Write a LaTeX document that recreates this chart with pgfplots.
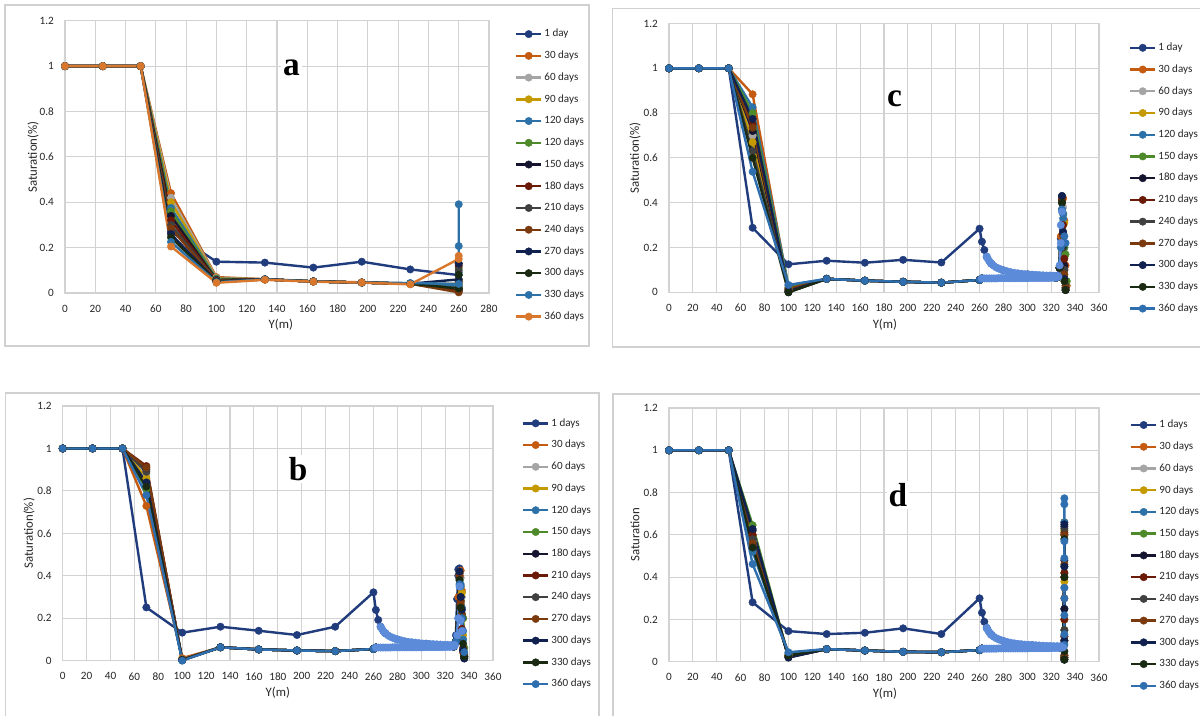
\documentclass[border=0pt]{standalone}
\usepackage{pgfplots}
\pgfplotsset{compat=1.18}
\usepackage{fontspec}
\setmainfont{Carlito}
\newfontfamily\lettfont{Liberation Serif}
\definecolor{gridc}{HTML}{D2D2D2}
\definecolor{boxc}{HTML}{D0D0D0}
\definecolor{txt}{HTML}{262626}
\definecolor{cNavy}{HTML}{203C7C}
\definecolor{cOrange}{HTML}{C55A11}
\definecolor{cGray}{HTML}{A5A5A5}
\definecolor{cGold}{HTML}{C49A00}
\definecolor{cBlue}{HTML}{2C72A8}
\definecolor{cGreen}{HTML}{4E8A2A}
\definecolor{cBlack}{HTML}{151530}
\definecolor{cDRed}{HTML}{6B1A08}
\definecolor{cDGray}{HTML}{404040}
\definecolor{cBrown}{HTML}{7A3A0E}
\definecolor{cNavyB}{HTML}{10204F}
\definecolor{cBlkG}{HTML}{1A2A12}
\definecolor{cSteel}{HTML}{2F6FAF}
\definecolor{cLight}{HTML}{5B8BD9}
\definecolor{cOrangeL}{HTML}{D9782D}
\tikzset{letter/.style={fill=white, inner sep=1.5pt, font=\fontsize{25}{25}\selectfont\lettfont\bfseries}}
\pgfplotsset{
  satax/.style={
    scale only axis, anchor=south west, clip=false,
    xmin=0, ymin=0, ymax=1.2,
    ytick={0,0.2,0.4,0.6,0.8,1,1.2},
    grid=major,
    grid style={draw=gridc, line width=0.8pt},
    axis line style={draw=gridc, line width=0.8pt},
    major tick length=0pt,
    tick label style={font=\fontsize{8.4}{10}\selectfont, text=txt},
    /pgf/number format/assume math mode=true,
    yticklabel style={xshift=-4.8pt},
    xticklabel style={yshift=-5.3pt},
    label style={font=\fontsize{9.6}{11}\selectfont, text=txt},
    every axis plot/.append style={line width=1.8pt, mark=*, mark size=2.8pt, mark options={solid, line width=0.3pt}},
    legend cell align=left,
    legend style={draw=none, fill=none, inner sep=0pt, outer sep=0pt, anchor=north west,
      font=\fontsize{8.3}{10}\selectfont, text=txt, row sep=8.5pt, column sep=1.5pt,
      nodes={inner sep=0pt, text height=6pt, text depth=1.8pt}},
    legend image code/.code={\draw[##1, mark repeat=2, mark phase=2] plot coordinates {(0pt,0pt) (9.4pt,0pt) (18.8pt,0pt)};},
  },
}
\begin{document}
\begin{tikzpicture}
\useasboundingbox (0,0) rectangle (900pt,-536.25pt);
\fill[white] (0,0) rectangle (900pt,-536.25pt);
\draw[boxc, line width=0.8pt] (3.75pt,-3.75pt) rectangle (441.75pt,-259.5pt);
\draw[boxc, line width=0.8pt] (459.4pt,-6.2pt) rectangle (902.25pt,-260.25pt);
\draw[boxc, line width=0.8pt] (4.1pt,-294.75pt) rectangle (449.25pt,-537.75pt);
\draw[boxc, line width=0.8pt] (459.75pt,-295.5pt) rectangle (902.25pt,-537.75pt);

% ---------------- panel a ----------------
\begin{axis}[satax, at={(48.75pt,-219.75pt)}, width=318pt, height=204.2pt,
  xmax=280, xtick={0,20,...,280},
  xlabel={Y(m)}, ylabel={Saturation(\%)},
  xlabel style={at={(axis description cs:0.509,-0.1175)}, anchor=center},
  ylabel style={at={(axis description cs:-0.0755,0.5)}, anchor=center},
  legend style={at={(1.0613,0.970)}},
  legend entries={1 day,30 days,60 days,90 days,120 days,120 days,150 days,180 days,210 days,240 days,270 days,300 days,330 days,360 days}]
\addplot[cNavy] coordinates {(0,1)(25,1)(50,1)(70,0.27)(100,0.138)(132,0.134)(164,0.112)(196,0.138)(228,0.104)(260,0.079)};
\addplot[cOrange] coordinates {(0,1)(25,1)(50,1)(70,0.44)(100,0.07)(132,0.061)(164,0.052)(196,0.047)(228,0.042)(260,0.03)(260,0.01)};
\addplot[cGray] coordinates {(0,1)(25,1)(50,1)(70,0.42)(100,0.067)(132,0.06)(164,0.051)(196,0.046)(228,0.041)(260,0.035)(260,0.02)};
\addplot[cGold] coordinates {(0,1)(25,1)(50,1)(70,0.40)(100,0.065)(132,0.06)(164,0.051)(196,0.046)(228,0.041)(260,0.04)(260,0.06)};
\addplot[cBlue] coordinates {(0,1)(25,1)(50,1)(70,0.375)(100,0.063)(132,0.06)(164,0.051)(196,0.046)(228,0.041)(260,0.03)(260,0.09)};
\addplot[cGreen] coordinates {(0,1)(25,1)(50,1)(70,0.36)(100,0.06)(132,0.06)(164,0.051)(196,0.046)(228,0.041)(260,0.02)(260,0.11)};
\addplot[cBlack] coordinates {(0,1)(25,1)(50,1)(70,0.34)(100,0.058)(132,0.06)(164,0.051)(196,0.046)(228,0.041)(260,0.015)(260,0.13)(260,0.05)};
\addplot[cDRed] coordinates {(0,1)(25,1)(50,1)(70,0.32)(100,0.056)(132,0.06)(164,0.051)(196,0.046)(228,0.041)(260,0.01)(260,0.12)};
\addplot[cDGray] coordinates {(0,1)(25,1)(50,1)(70,0.30)(100,0.055)(132,0.06)(164,0.051)(196,0.046)(228,0.041)(260,0.02)(260,0.10)};
\addplot[cBrown] coordinates {(0,1)(25,1)(50,1)(70,0.285)(100,0.054)(132,0.06)(164,0.051)(196,0.046)(228,0.041)(260,0.003)(260,0.05)};
\addplot[cNavyB] coordinates {(0,1)(25,1)(50,1)(70,0.26)(100,0.052)(132,0.06)(164,0.051)(196,0.046)(228,0.041)(260,0.06)(260,0.13)};
\addplot[cBlkG] coordinates {(0,1)(25,1)(50,1)(70,0.245)(100,0.05)(132,0.06)(164,0.051)(196,0.046)(228,0.041)(260,0.02)(260,0.08)};
\addplot[cBlue] coordinates {(0,1)(25,1)(50,1)(70,0.225)(100,0.048)(132,0.06)(164,0.051)(196,0.046)(228,0.044)(260,0.04)(260,0.207)(260,0.391)};
\addplot[cOrangeL] coordinates {(0,1)(25,1)(50,1)(70,0.205)(100,0.045)(132,0.058)(164,0.05)(196,0.046)(228,0.038)(260,0.15)(260,0.164)};
\node[letter] at (axis cs:149.6,0.994) {a};
\end{axis}

% ---------------- panel c ----------------
\begin{axis}[satax, at={(501.75pt,-219.225pt)}, width=322.5pt, height=201.6pt,
  xmax=360, xtick={0,20,...,360},
  xlabel={Y(m)}, ylabel={Saturation(\%)},
  xlabel style={at={(axis description cs:0.502,-0.1217)}, anchor=center},
  ylabel style={at={(axis description cs:-0.079,0.5)}, anchor=center},
  legend style={at={(1.0698,0.929)}},
  legend entries={1 day,30 days,60 days,90 days,120 days,150 days,180 days,210 days,240 days,270 days,300 days,330 days,360 days}]
\addplot[cNavy] coordinates {(0,1)(25,1)(50,1)(70,0.288)(100,0.125)(132,0.141)(164,0.132)(196,0.145)(228,0.133)(260,0.284)(262,0.226)(264,0.189)(266,0.159)(270,0.127)(280,0.098)(300,0.08)(325,0.074)(327,0.11)(328,0.24)(329,0.37)};
\addplot[cOrange] coordinates {(0,1)(25,1)(50,1)(70,0.884)(100,0.02)(132,0.06)(164,0.052)(196,0.047)(228,0.043)(260,0.055)(262,0.062)(324,0.065)(326,0.07)(327,0.11)(328,0.25)(329,0.43)(330,0.42)(331,0.32)(332,0.12)(333,0.03)};
\addplot[cGray] coordinates {(0,1)(25,1)(50,1)(70,0.70)(100,0.015)(132,0.06)(164,0.052)(196,0.047)(228,0.043)(260,0.055)(262,0.062)(324,0.065)(326,0.07)(327,0.11)(329,0.42)(330,0.38)(331,0.1)(332,0.03)};
\addplot[cGold] coordinates {(0,1)(25,1)(50,1)(70,0.67)(100,0.01)(132,0.06)(164,0.052)(196,0.047)(228,0.043)(260,0.055)(262,0.062)(324,0.065)(326,0.07)(327,0.11)(329,0.41)(330,0.35)(331,0.31)(332,0.05)};
\addplot[cBlue] coordinates {(0,1)(25,1)(50,1)(70,0.826)(100,0.03)(132,0.06)(164,0.052)(196,0.047)(228,0.043)(260,0.055)(262,0.062)(324,0.065)(326,0.07)(327,0.11)(329,0.43)(330,0.33)(331,0.2)(332,0.02)};
\addplot[cGreen] coordinates {(0,1)(25,1)(50,1)(70,0.80)(100,0.02)(132,0.06)(164,0.052)(196,0.047)(228,0.043)(260,0.055)(262,0.062)(324,0.065)(326,0.07)(327,0.11)(329,0.40)(330,0.35)(331,0.2)(332,0.17)(333,0.05)};
\addplot[cBlack] coordinates {(0,1)(25,1)(50,1)(70,0.72)(100,0.0)(132,0.06)(164,0.052)(196,0.047)(228,0.043)(260,0.055)(262,0.062)(324,0.065)(326,0.07)(327,0.11)(329,0.42)(330,0.26)(331,0.12)(332,0.01)};
\addplot[cDRed] coordinates {(0,1)(25,1)(50,1)(70,0.75)(100,0.005)(132,0.06)(164,0.052)(196,0.047)(228,0.043)(260,0.055)(262,0.062)(324,0.065)(326,0.07)(327,0.11)(329,0.41)(330,0.3)(331,0.15)(332,0.02)};
\addplot[cDGray] coordinates {(0,1)(25,1)(50,1)(70,0.63)(100,0.01)(132,0.06)(164,0.052)(196,0.047)(228,0.043)(260,0.055)(262,0.062)(324,0.065)(326,0.07)(327,0.11)(329,0.40)(330,0.2)(331,0.1)(332,0.03)};
\addplot[cBrown] coordinates {(0,1)(25,1)(50,1)(70,0.735)(100,0.015)(132,0.06)(164,0.052)(196,0.047)(228,0.043)(260,0.055)(262,0.062)(324,0.065)(326,0.07)(327,0.11)(329,0.42)(330,0.25)(331,0.08)(332,0.02)};
\addplot[cNavyB] coordinates {(0,1)(25,1)(50,1)(70,0.774)(100,0.005)(132,0.06)(164,0.052)(196,0.047)(228,0.043)(260,0.055)(262,0.062)(324,0.065)(326,0.07)(327,0.11)(329,0.43)(330,0.27)(331,0.06)(332,0.01)};
\addplot[cBlkG] coordinates {(0,1)(25,1)(50,1)(70,0.60)(100,0.0)(132,0.06)(164,0.052)(196,0.047)(228,0.043)(260,0.055)(262,0.062)(324,0.065)(326,0.07)(327,0.11)(329,0.40)(330,0.21)(331,0.05)(332,0.01)};
\addplot[cSteel] coordinates {(0,1)(25,1)(50,1)(70,0.538)(100,0.033)(132,0.06)(164,0.052)(196,0.047)(228,0.043)(260,0.055)(262,0.062)(324,0.065)(326,0.07)(328,0.2)(329,0.37)(330,0.35)(331,0.25)(332,0.22)};
\addplot[cLight, forget plot] coordinates {(262,0.062)(264,0.062)(266,0.062)(268,0.062)(270,0.062)(272,0.062)(274,0.062)(276,0.063)(278,0.063)(280,0.063)(282,0.063)(284,0.063)(286,0.063)(288,0.063)(290,0.063)(292,0.063)(294,0.063)(296,0.063)(298,0.063)(300,0.063)(302,0.064)(304,0.064)(306,0.064)(308,0.064)(310,0.064)(312,0.064)(314,0.064)(316,0.064)(318,0.064)(320,0.065)(322,0.065)(324,0.066)(326,0.07)(327,0.12)(328,0.22)(328,0.3)(329,0.36)};
\addplot[cLight, forget plot] coordinates {(266,0.159)(267,0.149)(268,0.14)(269,0.133)(270,0.127)(272,0.118)(274,0.111)(276,0.106)(278,0.102)(280,0.098)(283,0.094)(286,0.09)(289,0.087)(292,0.085)(295,0.083)(298,0.081)(301,0.08)(304,0.079)(307,0.078)(310,0.077)(313,0.076)(316,0.075)(319,0.075)(322,0.074)(325,0.074)};
\node[letter] at (axis cs:188.9,0.863) {c};
\end{axis}

% ---------------- panel b ----------------
\begin{axis}[satax, at={(47.03pt,-495.5pt)}, width=322.7pt, height=191pt,
  xmax=360, xtick={0,20,...,360},
  xlabel={Y(m)}, ylabel={Saturation(\%)},
  xlabel style={at={(axis description cs:0.5,-0.127)}, anchor=center},
  ylabel style={at={(axis description cs:-0.078,0.5)}, anchor=center},
  legend style={at={(1.0674,0.9525)}},
  legend entries={1 days,30 days,60 days,90 days,120 days,150 days,180 days,210 days,240 days,270 days,300 days,330 days,360 days}]
\addplot[cNavy] coordinates {(0,1)(25,1)(50,1)(70,0.251)(100,0.132)(132,0.16)(164,0.141)(196,0.121)(228,0.16)(260,0.322)(262,0.239)(264,0.192)(266,0.16)(270,0.129)(280,0.1)(304,0.08)(327,0.074)(329,0.12)(330,0.29)(331,0.4)(331,0.43)(332,0.435)};
\addplot[cOrange] coordinates {(0,1)(25,1)(50,1)(70,0.729)(100,0.012)(132,0.063)(164,0.053)(196,0.048)(228,0.045)(260,0.055)(262,0.062)(327,0.066)(329,0.09)(331,0.3)(332,0.42)(333,0.425)(334,0.33)(335,0.2)(336,0.03)};
\addplot[cGray] coordinates {(0,1)(25,1)(50,1)(70,0.88)(100,0.005)(132,0.063)(164,0.053)(196,0.048)(228,0.045)(260,0.055)(262,0.062)(327,0.066)(329,0.09)(332,0.4)(333,0.39)(334,0.3)(335,0.1)(336,0.02)};
\addplot[cGold] coordinates {(0,1)(25,1)(50,1)(70,0.86)(100,0.005)(132,0.063)(164,0.053)(196,0.048)(228,0.045)(260,0.055)(262,0.062)(327,0.066)(329,0.09)(332,0.41)(333,0.35)(334,0.32)(335,0.12)(336,0.03)};
\addplot[cBlue] coordinates {(0,1)(25,1)(50,1)(70,0.83)(100,0.005)(132,0.063)(164,0.053)(196,0.048)(228,0.045)(260,0.055)(262,0.062)(327,0.066)(329,0.09)(332,0.42)(333,0.36)(334,0.25)(335,0.1)(336,0.02)};
\addplot[cGreen] coordinates {(0,1)(25,1)(50,1)(70,0.81)(100,0.005)(132,0.063)(164,0.053)(196,0.048)(228,0.045)(260,0.055)(262,0.062)(327,0.066)(329,0.09)(332,0.38)(333,0.28)(334,0.22)(335,0.2)(336,0.06)};
\addplot[cBlack] coordinates {(0,1)(25,1)(50,1)(70,0.90)(100,0.003)(132,0.063)(164,0.053)(196,0.048)(228,0.045)(260,0.055)(262,0.062)(327,0.066)(329,0.09)(332,0.41)(333,0.3)(334,0.2)(335,0.05)(336,0.012)};
\addplot[cDRed] coordinates {(0,1)(25,1)(50,1)(70,0.917)(100,0.003)(132,0.063)(164,0.053)(196,0.048)(228,0.045)(260,0.055)(262,0.062)(327,0.066)(329,0.09)(332,0.4)(333,0.28)(334,0.15)(335,0.04)(336,0.015)};
\addplot[cDGray] coordinates {(0,1)(25,1)(50,1)(70,0.89)(100,0.004)(132,0.063)(164,0.053)(196,0.048)(228,0.045)(260,0.055)(262,0.062)(327,0.066)(329,0.09)(332,0.39)(333,0.26)(334,0.14)(335,0.05)(336,0.02)};
\addplot[cBrown] coordinates {(0,1)(25,1)(50,1)(70,0.91)(100,0.004)(132,0.063)(164,0.053)(196,0.048)(228,0.045)(260,0.055)(262,0.062)(327,0.066)(329,0.09)(332,0.4)(333,0.27)(334,0.22)(335,0.06)(336,0.02)};
\addplot[cNavyB] coordinates {(0,1)(25,1)(50,1)(70,0.84)(100,0.003)(132,0.063)(164,0.053)(196,0.048)(228,0.045)(260,0.055)(262,0.062)(327,0.066)(329,0.09)(332,0.42)(333,0.3)(334,0.24)(335,0.05)(336,0.01)};
\addplot[cBlkG] coordinates {(0,1)(25,1)(50,1)(70,0.82)(100,0.002)(132,0.063)(164,0.053)(196,0.048)(228,0.045)(260,0.055)(262,0.062)(327,0.066)(329,0.09)(332,0.38)(333,0.25)(334,0.2)(335,0.08)(336,0.02)};
\addplot[cSteel] coordinates {(0,1)(25,1)(50,1)(70,0.78)(100,0.0)(132,0.063)(164,0.053)(196,0.048)(228,0.045)(260,0.055)(262,0.062)(327,0.066)(329,0.09)(331,0.2)(332,0.36)(333,0.35)(334,0.2)(335,0.14)(336,0.04)};
\addplot[cLight, forget plot] coordinates {(262,0.062)(264,0.062)(266,0.062)(268,0.062)(270,0.062)(272,0.062)(274,0.062)(276,0.063)(278,0.063)(280,0.063)(282,0.063)(284,0.063)(286,0.063)(288,0.063)(290,0.063)(292,0.063)(294,0.063)(296,0.063)(298,0.063)(300,0.063)(302,0.064)(304,0.064)(306,0.064)(308,0.064)(310,0.064)(312,0.064)(314,0.064)(316,0.064)(318,0.064)(320,0.065)(322,0.065)(324,0.065)(326,0.066)(328,0.07)(330,0.12)(331,0.2)(332,0.35)(333,0.19)(334,0.14)};
\addplot[cLight, forget plot] coordinates {(266,0.16)(267,0.15)(268,0.141)(269,0.134)(270,0.129)(272,0.12)(274,0.113)(276,0.108)(278,0.104)(280,0.1)(283,0.096)(286,0.092)(289,0.089)(292,0.087)(295,0.085)(298,0.083)(301,0.081)(304,0.08)(307,0.079)(310,0.078)(313,0.077)(316,0.076)(319,0.075)(322,0.075)(325,0.074)(328,0.074)};
\node[letter] at (axis cs:196.9,0.903) {b};
\end{axis}

% ---------------- panel d ----------------
\begin{axis}[satax, at={(501.75pt,-496.3pt)}, width=322.5pt, height=190.3pt,
  xmax=360, xtick={0,20,...,360},
  xlabel={Y(m)}, ylabel={Saturation},
  xlabel style={at={(axis description cs:0.502,-0.127)}, anchor=center},
  ylabel style={at={(axis description cs:-0.079,0.5)}, anchor=center},
  legend style={at={(1.072,0.9535)}},
  legend entries={1 days,30 days,60 days,90 days,120 days,150 days,180 days,210 days,240 days,270 days,300 days,330 days,360 days}]
\addplot[cNavy] coordinates {(0,1)(25,1)(50,1)(70,0.281)(100,0.145)(132,0.131)(164,0.137)(196,0.158)(228,0.131)(260,0.3)(262,0.232)(264,0.189)(266,0.16)(270,0.127)(280,0.098)(304,0.079)(328,0.073)(331,0.1)(331,0.12)};
\addplot[cOrange] coordinates {(0,1)(25,1)(50,1)(70,0.55)(100,0.03)(132,0.06)(164,0.053)(196,0.047)(228,0.045)(260,0.055)(262,0.062)(328,0.066)(330,0.07)(331,0.1)(331,0.4)(331,0.66)(331,0.3)(331,0.03)};
\addplot[cGray] coordinates {(0,1)(25,1)(50,1)(70,0.57)(100,0.035)(132,0.06)(164,0.053)(196,0.047)(228,0.045)(260,0.055)(262,0.062)(328,0.066)(330,0.07)(331,0.35)(331,0.6)(331,0.02)};
\addplot[cGold] coordinates {(0,1)(25,1)(50,1)(70,0.60)(100,0.03)(132,0.06)(164,0.053)(196,0.047)(228,0.045)(260,0.055)(262,0.062)(328,0.066)(330,0.07)(331,0.38)(331,0.62)(331,0.2)(331,0.03)};
\addplot[cBlue] coordinates {(0,1)(25,1)(50,1)(70,0.52)(100,0.04)(132,0.06)(164,0.053)(196,0.047)(228,0.045)(260,0.055)(262,0.062)(328,0.066)(330,0.07)(331,0.45)(331,0.66)(331,0.25)(331,0.02)};
\addplot[cGreen] coordinates {(0,1)(25,1)(50,1)(70,0.646)(100,0.025)(132,0.06)(164,0.053)(196,0.047)(228,0.045)(260,0.055)(262,0.062)(328,0.066)(330,0.07)(331,0.42)(331,0.6)(331,0.15)(331,0.02)};
\addplot[cBlack] coordinates {(0,1)(25,1)(50,1)(70,0.62)(100,0.02)(132,0.06)(164,0.053)(196,0.047)(228,0.045)(260,0.055)(262,0.062)(328,0.066)(330,0.07)(331,0.48)(331,0.64)(331,0.25)(331,0.01)};
\addplot[cDRed] coordinates {(0,1)(25,1)(50,1)(70,0.60)(100,0.022)(132,0.06)(164,0.053)(196,0.047)(228,0.045)(260,0.055)(262,0.062)(328,0.066)(330,0.07)(331,0.42)(331,0.61)(331,0.2)(331,0.02)};
\addplot[cDGray] coordinates {(0,1)(25,1)(50,1)(70,0.58)(100,0.025)(132,0.06)(164,0.053)(196,0.047)(228,0.045)(260,0.055)(262,0.062)(328,0.066)(330,0.07)(331,0.4)(331,0.63)(331,0.15)(331,0.03)};
\addplot[cBrown] coordinates {(0,1)(25,1)(50,1)(70,0.56)(100,0.028)(132,0.06)(164,0.053)(196,0.047)(228,0.045)(260,0.055)(262,0.062)(328,0.066)(330,0.07)(331,0.46)(331,0.6)(331,0.12)(331,0.02)};
\addplot[cNavyB] coordinates {(0,1)(25,1)(50,1)(70,0.628)(100,0.02)(132,0.06)(164,0.053)(196,0.047)(228,0.045)(260,0.055)(262,0.062)(328,0.066)(330,0.07)(331,0.45)(331,0.65)(331,0.1)(331,0.01)};
\addplot[cBlkG] coordinates {(0,1)(25,1)(50,1)(70,0.54)(100,0.03)(132,0.06)(164,0.053)(196,0.047)(228,0.045)(260,0.055)(262,0.062)(328,0.066)(330,0.07)(331,0.4)(331,0.58)(331,0.05)(331,0.01)};
\addplot[cSteel] coordinates {(0,1)(25,1)(50,1)(70,0.462)(100,0.045)(132,0.06)(164,0.053)(196,0.047)(228,0.045)(260,0.055)(262,0.062)(328,0.066)(330,0.07)(331,0.13)(331,0.22)(331,0.35)(331,0.49)(331,0.57)(331,0.745)(331,0.773)(331,0.3)(331,0.08)};
\addplot[cLight, forget plot] coordinates {(262,0.062)(264,0.062)(266,0.062)(268,0.062)(270,0.062)(272,0.062)(274,0.062)(276,0.063)(278,0.063)(280,0.063)(282,0.063)(284,0.063)(286,0.063)(288,0.063)(290,0.063)(292,0.063)(294,0.063)(296,0.063)(298,0.063)(300,0.063)(302,0.064)(304,0.064)(306,0.064)(308,0.064)(310,0.064)(312,0.064)(314,0.064)(316,0.064)(318,0.064)(320,0.065)(322,0.065)(324,0.065)(326,0.066)(328,0.066)(330,0.068)};
\addplot[cLight, forget plot] coordinates {(266,0.16)(267,0.149)(268,0.14)(269,0.133)(270,0.127)(272,0.118)(274,0.111)(276,0.106)(278,0.102)(280,0.098)(283,0.094)(286,0.09)(289,0.087)(292,0.085)(295,0.083)(298,0.081)(301,0.08)(304,0.079)(307,0.078)(310,0.077)(313,0.076)(316,0.075)(319,0.075)(322,0.074)(325,0.074)(328,0.073)};
\node[letter] at (axis cs:191.7,0.789) {d};
\end{axis}
\end{tikzpicture}
\end{document}
